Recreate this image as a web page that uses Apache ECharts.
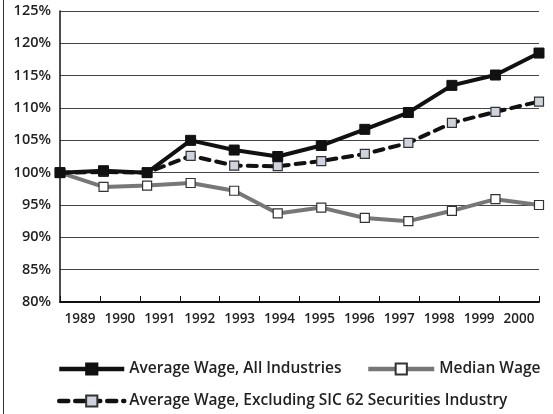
<!DOCTYPE html>
<html lang="en">
<head>
    <meta charset="UTF-8">
    <title>Wage index</title>
    <style>
        html, body { margin: 0; padding: 0; background: #fff; }
        #chart { width: 553px; height: 414px; }
    </style>
</head>
<body>
<div id="chart"></div>
<script src="https://cdn.jsdelivr.net/npm/echarts@6/dist/echarts.min.js"></script>
<script type="text/javascript">
    var years = ['1989', '1990', '1991', '1992', '1993', '1994', '1995', '1996', '1997', '1998', '1999', '2000'];
    var avgAll = [100, 100.3, 100.0, 105.0, 103.5, 102.5, 104.2, 106.7, 109.3, 113.5, 115.1, 118.5];
    var medianWage = [100, 97.8, 98.0, 98.4, 97.2, 93.7, 94.6, 93.0, 92.5, 94.1, 95.9, 95.0];
    var avgExSec = [100, 100.1, 100.0, 102.6, 101.1, 101.0, 101.8, 102.9, 104.6, 107.7, 109.4, 111.0];

    var font = '"Open Sans", "DejaVu Sans", sans-serif';
    var legendText = { fontFamily: font, fontSize: 15.5, fontWeight: 600, color: '#222' };

    var myChart = echarts.init(document.getElementById('chart'));
    var option = {
        animation: false,
        textStyle: { fontFamily: font },
        grid: { left: 60, right: 14, top: 11, bottom: 112 },
        legend: [
            {
                left: 57, top: 361, padding: 0, itemWidth: 65, itemHeight: 14,
                data: ['Average Wage, All Industries'],
                lineStyle: { width: 4.5 },
                textStyle: legendText
            },
            {
                left: 366, top: 361, padding: 0, itemWidth: 66, itemHeight: 14,
                data: ['Median Wage'],
                lineStyle: { width: 4.5 },
                textStyle: legendText
            },
            {
                left: 57, top: 393, padding: 0, itemWidth: 65, itemHeight: 14,
                data: ['Average Wage, Excluding SIC 62 Securities Industry'],
                lineStyle: { width: 4.5 },
                textStyle: legendText
            }
        ],
        xAxis: [
            {
                type: 'category',
                data: years,
                boundaryGap: true,
                axisLine: { lineStyle: { color: '#111', width: 2 } },
                axisTick: { show: true, inside: true, length: 6, lineStyle: { color: '#111', width: 1 } },
                axisLabel: { color: '#222', fontSize: 13.5, fontWeight: 600, margin: 10, interval: 0 },
                splitLine: { show: false }
            },
            {
                type: 'category',
                data: years,
                boundaryGap: false,
                show: false
            }
        ],
        yAxis: {
            type: 'value',
            min: 80,
            max: 125,
            interval: 5,
            axisLine: { show: true, lineStyle: { color: '#111', width: 1.5 } },
            axisTick: { show: false },
            axisLabel: { formatter: '{value}%', color: '#222', fontSize: 14.5, fontWeight: 600, margin: 9 },
            splitLine: { lineStyle: { color: '#444', width: 1.2 } }
        },
        series: [
            {
                name: 'Median Wage',
                type: 'line',
                xAxisIndex: 1,
                data: medianWage,
                symbol: 'rect',
                symbolSize: 9,
                lineStyle: { color: '#777', width: 4 },
                itemStyle: { color: '#fff', borderColor: '#333', borderWidth: 1.2 }
            },
            {
                name: 'Average Wage, Excluding SIC 62 Securities Industry',
                type: 'line',
                xAxisIndex: 1,
                data: avgExSec,
                symbol: 'rect',
                symbolSize: 9,
                lineStyle: { color: '#111', width: 4, type: [9, 7], cap: 'round' },
                itemStyle: { color: '#cfd3db', borderColor: '#333', borderWidth: 1.2 }
            },
            {
                name: 'Average Wage, All Industries',
                type: 'line',
                xAxisIndex: 1,
                data: avgAll,
                symbol: 'rect',
                symbolSize: 10,
                lineStyle: { color: '#111', width: 4 },
                itemStyle: { color: '#111', borderColor: '#111', borderWidth: 1 }
            }
        ],
        graphic: [
            {
                type: 'line',
                shape: { x1: 3.5, y1: 0, x2: 3.5, y2: 414 },
                style: { stroke: '#333', lineWidth: 1 }
            }
        ]
    };
    myChart.setOption(option);
</script>
</body>
</html>
